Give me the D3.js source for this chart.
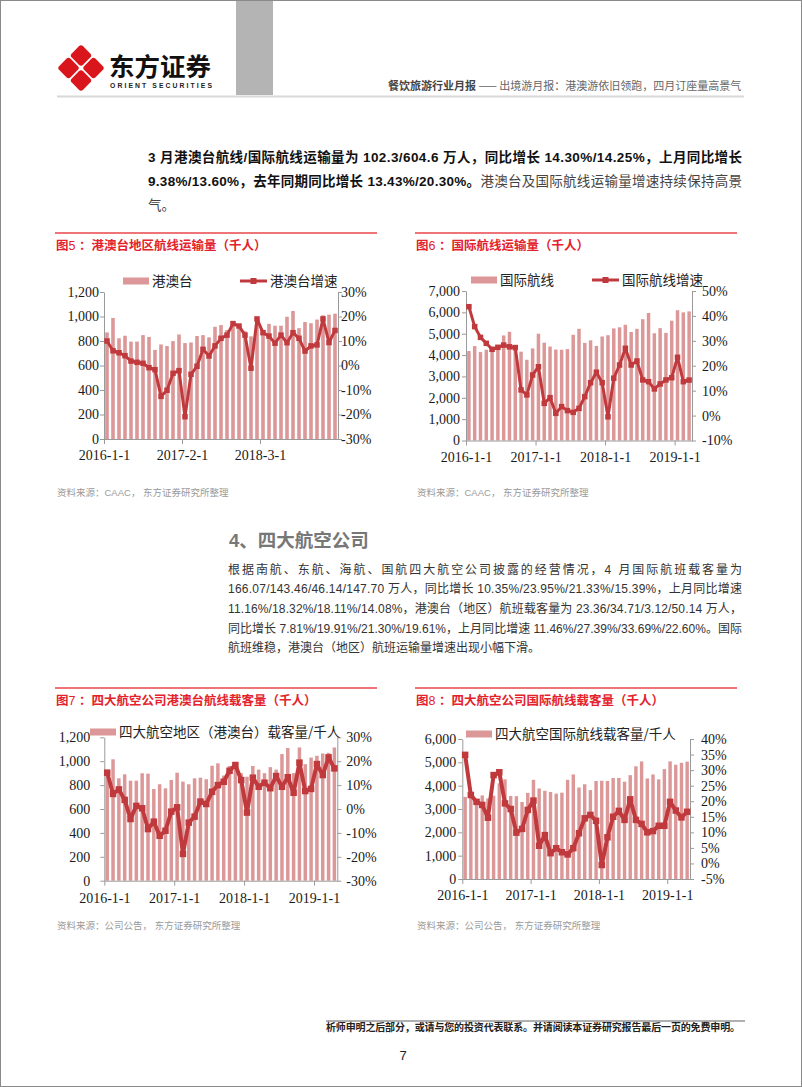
<!DOCTYPE html>
<html>
<head>
<meta charset="utf-8">
<script src="https://cdn.jsdelivr.net/npm/d3@7"></script>
<style>
  body { margin: 0; background: #fff; }
  svg { display: block; }
</style>
</head>
<body>
<svg id="page" width="802" height="1087"></svg>
<script>

// ---------------------------------------------------------------
// data
// ---------------------------------------------------------------
var months = ["2016-01","2016-02","2016-03","2016-04","2016-05","2016-06","2016-07","2016-08","2016-09","2016-10","2016-11","2016-12",
              "2017-01","2017-02","2017-03","2017-04","2017-05","2017-06","2017-07","2017-08","2017-09","2017-10","2017-11","2017-12",
              "2018-01","2018-02","2018-03","2018-04","2018-05","2018-06","2018-07","2018-08","2018-09","2018-10","2018-11","2018-12",
              "2019-01","2019-02","2019-03","2019-04"];
var months39 = months.slice(0, 39);

var tickLabels5 = ["2016-1-1", "2017-2-1", "2018-3-1"];
var tickLabelsYear = ["2016-1-1", "2017-1-1", "2018-1-1", "2019-1-1"];

// 图5 港澳台 (千人) / 增速 (%)
var hkBar = [870, 988, 822, 843, 795, 795, 848, 833, 727, 772, 759, 799, 853, 783, 788, 841, 848, 830, 916, 930,
             890, 960, 900, 880, 838, 968, 890, 940, 925, 925, 998, 1045, 905, 955, 945, 975, 1010, 1015, 1023];
var hkGrowth = [10.0, 6.0, 5.2, 4.0, 1.8, 1.3, 0.9, -0.9, -1.7, -12.6, -10.1, -3.2, -2.1, -20.9, -3.6, -0.3, 6.6, 3.9, 8.0, 11.1,
                12.4, 17.1, 16.1, 12.4, -1.1, 19.0, 13.4, 12.0, 9.1, 12.4, 9.3, 13.4, 11.1, 5.9, 8.0, 8.4, 19.0, 9.38, 14.30];

// 图6 国际航线
var intlBar = [4190, 4420, 4140, 4250, 4330, 4420, 4920, 5090, 4300, 4160, 3780, 4310, 5000, 4580, 4400, 4260, 4250, 4280, 4950, 5230,
               4570, 4690, 4430, 4870, 4930, 5250, 5300, 5420, 5080, 5230, 5680, 5970, 5020, 5260, 5040, 5610, 6100, 6000, 6046];
var intlGrowth = [43.7, 35.7, 31.4, 29.0, 26.6, 27.4, 28.3, 27.6, 27.3, 10.3, 8.3, 16.3, 19.6, 4.9, 7.2, 0.9, 3.6, 2.0, 1.3, 2.9,
                  7.6, 13.2, 17.4, 13.2, -0.5, 15.0, 20.3, 27.0, 20.3, 21.9, 14.3, 13.6, 10.7, 12.7, 14.3, 15.2, 23.4, 13.6, 14.25];

// 图7 四大航空 港澳台
var big4HkBar = [900, 1016, 857, 890, 837, 837, 899, 896, 767, 807, 773, 843, 904, 829, 807, 857, 862, 849, 962, 982,
                 880, 960, 940, 900, 870, 960, 930, 900, 950, 930, 1060, 1110, 900, 1115, 975, 1030, 1045, 1065, 1070, 1115];
var big4HkGrowth = [15.2, 6.3, 8.2, 3.8, -4.2, 1.3, 0.3, -8.4, -5.3, -11.2, -9.1, -1.1, 0.7, -18.8, -5.7, -3.2, 3.1, 2.1, 7.2, 10.0,
                    11.4, 16.0, 18.4, 12.1, -1.5, 13.1, 9.3, 11.0, 8.7, 13.8, 9.3, 13.3, 6.8, 19.4, 7.5, 8.4, 18.8, 14.2, 21.6, 17.0];

// 图8 四大航空 国际
var big4IntlBar = [3520, 3500, 3350, 3580, 3450, 3570, 4100, 4270, 3560, 3550, 3300, 3690, 4250, 3880, 3780, 3730, 3660, 3700, 4250, 4480,
                   3920, 4060, 3810, 4200, 4210, 4200, 4330, 4330, 4170, 4450, 4830, 5040, 4310, 4480, 4270, 4710, 5040, 4900, 4980, 5030];
var big4IntlGrowth = [34.9, 22.0, 19.8, 18.8, 14.7, 28.4, 29.3, 19.3, 17.5, 9.9, 11.1, 17.2, 20.2, 5.7, 9.1, 3.3, 4.9, 3.6, 2.9, 4.9,
                      9.7, 14.5, 15.6, 13.7, -0.5, 8.4, 15.0, 16.9, 14.0, 20.6, 14.0, 12.7, 10.0, 10.4, 12.1, 12.1, 19.8, 17.0, 14.8, 16.6];

// ---------------------------------------------------------------
// styles
// ---------------------------------------------------------------
var BAR = "#dc9898", LINE = "#c0393c", RED = "#e4222b", AXIS = "#9a9a9a";
var SANS = "'Liberation Sans', 'Noto Sans CJK SC', sans-serif";
var CJK = "'Noto Sans CJK SC', sans-serif";
var SERIF = "'Liberation Serif', 'Noto Serif CJK SC', serif";

var svg = d3.select("#page");

svg.append("rect").attr("x", 0.5).attr("y", 0.5).attr("width", 801).attr("height", 1086)
  .attr("fill", "#fff").attr("stroke", "#8a8a8a");

function txt(x, y, s, size, opts) {
  opts = opts || {};
  return svg.append("text")
    .attr("x", x).attr("y", y)
    .attr("font-family", opts.family || CJK)
    .attr("font-size", size)
    .attr("font-weight", opts.weight || "normal")
    .attr("fill", opts.fill || "#333")
    .attr("text-anchor", opts.anchor || "start")
    .text(s);
}

//=========================================================================
// header
//=========================================================================
svg.append("rect").attr("x", 236).attr("y", 1).attr("width", 37).attr("height", 94).attr("fill", "#b4b4b4");

var logo = svg.append("g").attr("transform", "translate(81,68)");
[[0, -12.5], [12.5, 0], [0, 12.5], [-12.5, 0]].forEach(function(p) {
  logo.append("rect")
    .attr("x", -8).attr("y", -8).attr("width", 16).attr("height", 16).attr("rx", 3)
    .attr("fill", "#d9161c")
    .attr("transform", "translate(" + p[0] + "," + p[1] + ") rotate(45)");
});

txt(109, 76, "东方证券", 25.5, {weight: "bold", fill: "#111"});
txt(110, 88, "ORIENT  SECURITIES", 6.8, {family: SANS, weight: "bold", fill: "#222"})
  .attr("textLength", 102).attr("lengthAdjust", "spacing");

var head = txt(388, 90, "", 11, {fill: "#666"});
head.append("tspan").attr("font-weight", "bold").attr("fill", "#444").text("餐饮旅游行业月报");
head.append("tspan").text(" —— 出境游月报：港澳游依旧领跑，四月订座量高景气");

svg.append("line").attr("x1", 57).attr("x2", 744).attr("y1", 96.5).attr("y2", 96.5)
  .attr("stroke", "#d8d8d8").attr("stroke-width", 2);

//=========================================================================
// paragraph 1
//=========================================================================
var p1 = [
  [["b", "3 月港澳台航线/国际航线运输量为 102.3/604.6 万人，同比增长 14.30%/14.25%，上月同比增长"]],
  [["b", "9.38%/13.60%，去年同期同比增长 13.43%/20.30%。"], ["n", "港澳台及国际航线运输量增速持续保持高景"]],
  [["n", "气。"]]
];
p1.forEach(function(line, i) {
  var t = svg.append("text").attr("x", 148).attr("y", 162 + i * 24)
    .attr("font-family", SANS).attr("font-size", 13.5);
  line.forEach(function(seg) {
    t.append("tspan")
      .attr("font-weight", seg[0] == "b" ? "bold" : "normal")
      .attr("fill", seg[0] == "b" ? "#111" : "#444")
      .text(seg[1]);
  });
  if (i < 2) t.attr("textLength", 594).attr("lengthAdjust", "spacing");
});

//=========================================================================
// section 4
//=========================================================================
txt(229, 547, "4、四大航空公司", 18.5, {family: SANS, weight: "bold", fill: "#777"});

var p2 = [
  "根据南航、东航、海航、国航四大航空公司披露的经营情况，4 月国际航班载客量为",
  "166.07/143.46/46.14/147.70 万人，同比增长 10.35%/23.95%/21.33%/15.39%，上月同比增速",
  "11.16%/18.32%/18.11%/14.08%，港澳台（地区）航班载客量为 23.36/34.71/3.12/50.14 万人，",
  "同比增长 7.81%/19.91%/21.30%/19.61%，上月同比增速 11.46%/27.39%/33.69%/22.60%。国际",
  "航班维稳，港澳台（地区）航班运输量增速出现小幅下滑。"
];
p2.forEach(function(s, i) {
  var t = txt(228, 573.5 + i * 19.7, s, 12, {family: SANS, fill: "#333"});
  if (i < 4) t.attr("textLength", 514).attr("lengthAdjust", "spacing");
});

//=========================================================================
// charts
//=========================================================================
function drawChart(c) {
  var g = svg.append("g");

  // title block
  g.append("line").attr("x1", c.titleX - 1).attr("x2", c.titleX + 321)
    .attr("y1", c.titleY - 12).attr("y2", c.titleY - 12)
    .attr("stroke", "#e8464b").attr("stroke-width", 1.5);
  var tt = g.append("text").attr("x", c.titleX).attr("y", c.titleY + 4.5)
    .attr("font-family", CJK).attr("font-size", 12.5).attr("fill", RED);
  tt.append("tspan").attr("font-weight", "bold").text("图");
  tt.append("tspan").attr("font-family", SANS).text(c.num + "  ");
  tt.append("tspan").attr("font-weight", "bold").text("：" + c.title);

  g.append("text").attr("x", c.titleX + 1).attr("y", c.sourceY + 3.5)
    .attr("font-family", SANS).attr("font-size", 9.5).attr("fill", "#9a9a9a")
    .text(c.source);

  // scales
  var band = d3.scaleBand().domain(c.months).range([c.left, c.right])
    .paddingInner(0.4).paddingOuter(0.2);
  var xEdge = d3.scaleLinear().domain([0, c.months.length]).range([c.left, c.right]);
  var yL = d3.scaleLinear().domain(c.yL).range([c.bottom, c.top]);
  var yR = d3.scaleLinear().domain(c.yR).range([c.bottom, c.top]);
  var cx = function(d, i) { return band(c.months[i]) + band.bandwidth() / 2; };

  // bars
  g.append("g").selectAll("rect").data(c.bars).enter().append("rect")
    .attr("x", function(d, i) { return band(c.months[i]); })
    .attr("width", band.bandwidth())
    .attr("y", function(d) { return yL(d); })
    .attr("height", function(d) { return yL(0) - yL(d); })
    .attr("fill", BAR);

  // axes
  function styleAxis(a) {
    a.selectAll("path, line").attr("stroke", AXIS).attr("stroke-width", 1);
    a.selectAll("text").attr("font-family", SERIF).attr("font-size", 14).attr("fill", "#1a1a1a");
  }
  var aL = g.append("g").attr("transform", "translate(" + c.left + ",0)")
    .call(d3.axisLeft(yL).tickValues(d3.range(c.yL[0], c.yL[1] + 1, c.yLStep))
      .tickFormat(d3.format(",")).tickSize(4).tickSizeOuter(0).tickPadding(c.padL));
  styleAxis(aL);

  var aR = g.append("g").attr("transform", "translate(" + c.right + ",0)")
    .call(d3.axisRight(yR).tickValues(d3.range(c.yR[0], c.yR[1] + 0.01, c.yRStep))
      .tickFormat(function(d) { return Math.round(d) + "%"; })
      .tickSize(4).tickSizeOuter(0).tickPadding(c.padR));
  styleAxis(aR);

  var aB = g.append("g").attr("transform", "translate(0," + c.bottom + ")")
    .call(d3.axisBottom(xEdge).tickValues(c.xTicks)
      .tickFormat(function(d, i) { return c.xTickLabels[i]; })
      .tickSize(5).tickSizeOuter(0).tickPadding(c.padB));
  styleAxis(aB);

  // line
  var line = d3.line().x(cx).y(function(d) { return yR(d); });
  g.append("path").datum(c.growth)
    .attr("d", line).attr("fill", "none")
    .attr("stroke", LINE).attr("stroke-width", c.lw).attr("stroke-linejoin", "round");
  g.append("g").selectAll("rect").data(c.growth).enter().append("rect")
    .attr("x", function(d, i) { return cx(d, i) - c.ms / 2; })
    .attr("y", function(d) { return yR(d) - c.ms / 2; })
    .attr("width", c.ms).attr("height", c.ms)
    .attr("fill", LINE);

  // legend
  var lg = g.append("g").attr("font-family", CJK).attr("font-size", 13.5).attr("fill", "#222");
  lg.append("rect").attr("x", c.leg.bx).attr("y", c.leg.y - 3.5).attr("width", 26).attr("height", 7).attr("fill", BAR);
  lg.append("text").attr("x", c.leg.bx + 29).attr("y", c.leg.y + 5).text(c.leg.barName);
  if (c.leg.lineName) {
    lg.append("line").attr("x1", c.leg.lx).attr("x2", c.leg.lx + 27)
      .attr("y1", c.leg.y).attr("y2", c.leg.y).attr("stroke", LINE).attr("stroke-width", 3);
    lg.append("rect").attr("x", c.leg.lx + 10.5).attr("y", c.leg.y - 3).attr("width", 6).attr("height", 6).attr("fill", LINE);
    lg.append("text").attr("x", c.leg.lx + 30).attr("y", c.leg.y + 5).text(c.leg.lineName);
  }
}

drawChart({
  num: "5", title: "港澳台地区航线运输量（千人）", titleX: 56, titleY: 245,
  source: "资料来源：CAAC，  东方证券研究所整理", sourceY: 492,
  months: months39, bars: hkBar, growth: hkGrowth,
  left: 104, right: 338, top: 292, bottom: 439,
  yL: [0, 1200], yLStep: 200, yR: [-30, 30], yRStep: 10,
  xTicks: [0, 13, 26], xTickLabels: tickLabels5,
  padL: 1, padR: -1, padB: 6, lw: 3, ms: 5.5,
  leg: {bx: 123, lx: 240, y: 281, barName: "港澳台", lineName: "港澳台增速"}
});

drawChart({
  num: "6", title: "国际航线运输量（千人）", titleX: 416, titleY: 245,
  source: "资料来源：CAAC，  东方证券研究所整理", sourceY: 492,
  months: months39, bars: intlBar, growth: intlGrowth,
  left: 466, right: 692, top: 291, bottom: 440.5,
  yL: [0, 7000], yLStep: 1000, yR: [-10, 50], yRStep: 10,
  xTicks: [0, 12, 24, 36], xTickLabels: tickLabelsYear,
  padL: 2, padR: 6, padB: 7, lw: 3, ms: 5.5,
  leg: {bx: 471, lx: 592, y: 280, barName: "国际航线", lineName: "国际航线增速"}
});

drawChart({
  num: "7", title: "四大航空公司港澳台航线载客量（千人）", titleX: 56, titleY: 700,
  source: "资料来源：公司公告，  东方证券研究所整理", sourceY: 925,
  months: months, bars: big4HkBar, growth: big4HkGrowth,
  left: 104.3, right: 337.3, top: 737.3, bottom: 880.7,
  yL: [0, 1200], yLStep: 200, yR: [-30, 30], yRStep: 10,
  xTicks: [0, 12, 24, 36], xTickLabels: tickLabelsYear,
  padL: 10, padR: 5, padB: 7, lw: 4, ms: 6.5,
  leg: {bx: 90, y: 732, barName: "四大航空地区（港澳台）载客量/千人"}
});

drawChart({
  num: "8", title: "四大航空公司国际航线载客量（千人）", titleX: 416, titleY: 700,
  source: "资料来源：公司公告，  东方证券研究所整理", sourceY: 925,
  months: months, bars: big4IntlBar, growth: big4IntlGrowth,
  left: 462.3, right: 690, top: 739, bottom: 879,
  yL: [0, 6000], yLStep: 1000, yR: [-5, 40], yRStep: 5,
  xTicks: [0, 12, 24, 36], xTickLabels: tickLabelsYear,
  padL: 2, padR: 7, padB: 6, lw: 4, ms: 6.5,
  leg: {bx: 466, y: 734, barName: "四大航空国际航线载客量/千人"}
});

//=========================================================================
// footer
//=========================================================================
svg.append("line").attr("x1", 326).attr("x2", 745).attr("y1", 1021).attr("y2", 1021)
  .attr("stroke", "#b0b0b0").attr("stroke-width", 2);
txt(326, 1031, "析师申明之后部分，或请与您的投资代表联系。并请阅读本证券研究报告最后一页的免费申明。", 10, {weight: "bold", fill: "#222"})
  .attr("textLength", 414).attr("lengthAdjust", "spacing");
txt(403, 1060, "7", 13, {family: SANS, fill: "#222", anchor: "middle"});

</script>
</body>
</html>
